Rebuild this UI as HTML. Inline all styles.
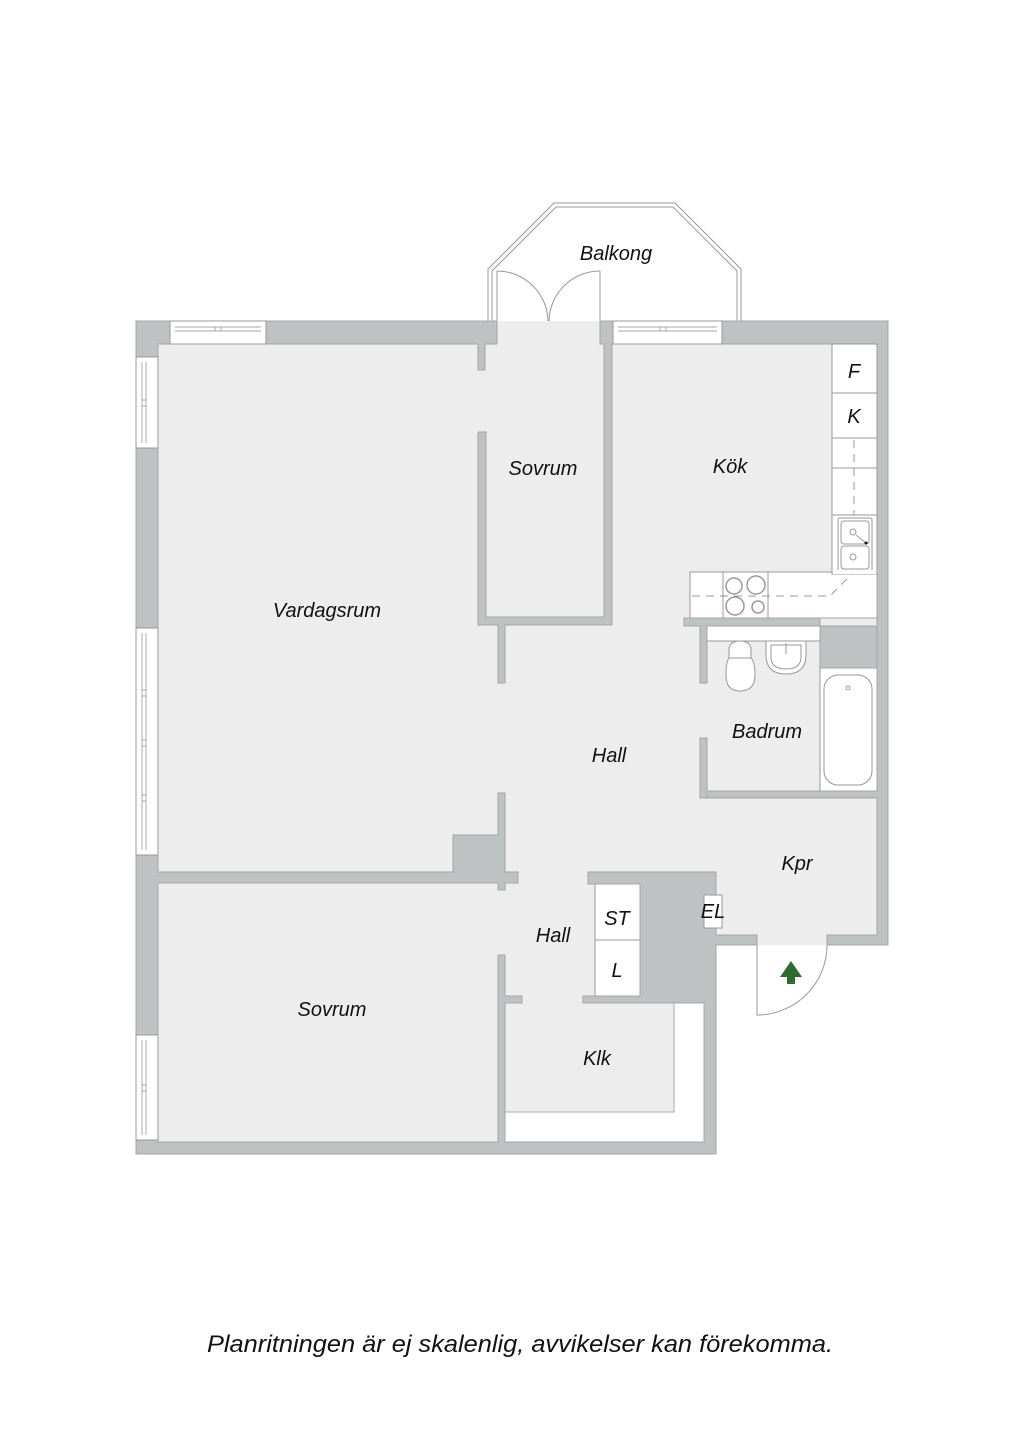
<!DOCTYPE html>
<html><head><meta charset="utf-8"><style>
html,body{margin:0;padding:0;background:#fff}
svg{display:block}
text{font-family:"Liberation Sans",sans-serif;font-style:italic;fill:#111}
</style></head><body>
<svg width="1024" height="1448" viewBox="0 0 1024 1448" xmlns="http://www.w3.org/2000/svg">
<g fill="#ededed">
<rect x="158" y="344" width="719" height="601"/>
<rect x="158" y="945" width="558" height="197"/>
<rect x="497" y="321" width="103" height="23"/>
</g>
<rect x="505" y="1112" width="199" height="30" fill="#fff"/>
<rect x="674" y="1003" width="30" height="109" fill="#fff"/>
<path d="M505 1112H674V1003" fill="none" stroke="#aaa" stroke-width="1"/>
<g fill="none" stroke="#999" stroke-width="1">
<path d="M488 321V269L554 203H675L741 269V321"/>
<path d="M492 321V271L556 207H673L737 271V321"/>
<path d="M497 321V271M600 321V271"/>
<path d="M497 271A51 51 0 0 1 548 321"/>
<path d="M600 271A51 51 0 0 0 549 321"/>
</g>
<g fill="#fff" stroke="#999" stroke-width="1">
<rect x="690" y="572" width="187" height="46"/>
<rect x="707" y="626" width="113" height="15"/>
<rect x="820" y="668" width="57" height="124"/>
<rect x="595" y="884" width="45" height="112"/>
</g>
<g fill="none" stroke="#999" stroke-width="1">
<path d="M723 572V618M768 572V618"/>
<path d="M692 596H830L852 574" stroke-dasharray="8 6"/>
<circle cx="734" cy="586" r="8" stroke-width="1.5"/><circle cx="756" cy="585" r="9" stroke-width="1.5"/>
<circle cx="735" cy="606" r="9" stroke-width="1.5"/><circle cx="758" cy="607" r="6" stroke-width="1.5"/>
<path d="M595 940H640"/>
<path d="M729 650Q729 641 740 641Q751 641 751 650V658Q755 662 755 675Q755 691 740 691Q726 691 726 675Q726 662 729 658Z" fill="#fff"/>
<path d="M729 658H751"/>
<path d="M766 641H806V655Q806 674 786 674Q766 674 766 655Z" fill="#fff"/>
<path d="M771 645H801V657Q801 669 786 669Q771 669 771 657Z"/>
<path d="M786 643V654"/>
<rect x="824" y="675" width="48" height="110" rx="14" fill="#fff"/>
<circle cx="848" cy="688" r="2"/>
<path d="M757 945V1015A70 70 0 0 0 827 945"/>
</g>
<g fill="#bec2c3" stroke="#a3a7a8" stroke-width="1">
<path d="M136 321H497V344H485V370H478V344H158V357H136Z"/>
<path d="M600 321H888V945H827V935H877V798H707V791H877V626H820V668H877V344H877V618H684V626H700V683H707V626H820V618H877V344H722V321ZM600 321H613V344H612V625H505V683H498V625H478V432H486V617H604V344H600Z"/>
<rect x="700" y="738" width="7" height="60"/>
<rect x="136" y="448" width="22" height="180"/>
<path d="M136 855H158V872H453V835H498V793H505V872H518V883H505V890H498V883H158V1035H136Z"/>
<path d="M136 1140H158V1142H498V955H505V996H522V1003H505V1142H704V1003H583V996H640V884H588V872H716V935H757V945H716V1154H136Z"/>
</g>
<rect x="701" y="790" width="6" height="7" fill="#bec2c3"/>
<g fill="#fff" stroke="#999" stroke-width="1">
<rect x="170" y="321" width="96" height="23"/>
<rect x="613" y="321" width="109" height="23"/>
<rect x="136" y="357" width="22" height="91"/>
<rect x="136" y="628" width="22" height="227"/>
<rect x="136" y="1035" width="22" height="105"/>
</g>
<g fill="none" stroke="#aaa" stroke-width="1">
<path d="M175 327H261M175 331H261M215 327V331M221 327V331"/>
<path d="M618 327H717M618 331H717M660 327V331M666 327V331"/>
<path d="M142 362V443M146 362V443M142 400H146M142 406H146"/>
<path d="M142 633V850M146 633V850M142 690H146M142 696H146M142 740H146M142 746H146M142 795H146M142 801H146"/>
<path d="M142 1040V1135M146 1040V1135M142 1085H146M142 1091H146"/>
</g>
<rect x="832" y="344" width="45" height="230" fill="#fff" stroke="#999"/>
<g fill="none" stroke="#999" stroke-width="1">
<path d="M832 393H877M832 438H877M832 468H877M832 515H877"/>
<path d="M854 440V515" stroke-dasharray="8 6"/>
<rect x="838" y="518" width="34" height="54" rx="2" fill="#fff"/>
<rect x="841" y="521" width="28" height="23" rx="3"/>
<rect x="841" y="546" width="28" height="23" rx="3"/>
<circle cx="853" cy="532" r="3"/><circle cx="853" cy="557" r="3"/>
<path d="M856 535L866 543"/>
</g>
<circle cx="866" cy="543" r="1.5" fill="#111"/>
<rect x="833" y="570" width="43" height="4" fill="#fff"/>
<rect x="704" y="895" width="18" height="33" fill="#fff" stroke="#999"/>
<path d="M791 961L802 977H795V984H787V977H780Z" fill="#2e6b2e"/>
<g font-size="20">
<text x="616" y="260" text-anchor="middle">Balkong</text>
<text x="543" y="475" text-anchor="middle">Sovrum</text>
<text x="730" y="473" text-anchor="middle">Kök</text>
<text x="854" y="378" text-anchor="middle">F</text>
<text x="854" y="423" text-anchor="middle">K</text>
<text x="327" y="617" text-anchor="middle">Vardagsrum</text>
<text x="609" y="762" text-anchor="middle">Hall</text>
<text x="767" y="738" text-anchor="middle">Badrum</text>
<text x="797" y="870" text-anchor="middle">Kpr</text>
<text x="617" y="925" text-anchor="middle">ST</text>
<text x="617" y="977" text-anchor="middle">L</text>
<text x="713" y="918" text-anchor="middle">EL</text>
<text x="553" y="942" text-anchor="middle">Hall</text>
<text x="332" y="1016" text-anchor="middle">Sovrum</text>
<text x="597" y="1065" text-anchor="middle">Klk</text>
</g>
<text x="207" y="1352" font-size="24" textLength="626" lengthAdjust="spacingAndGlyphs">Planritningen är ej skalenlig, avvikelser kan förekomma.</text>
</svg>
</body></html>
